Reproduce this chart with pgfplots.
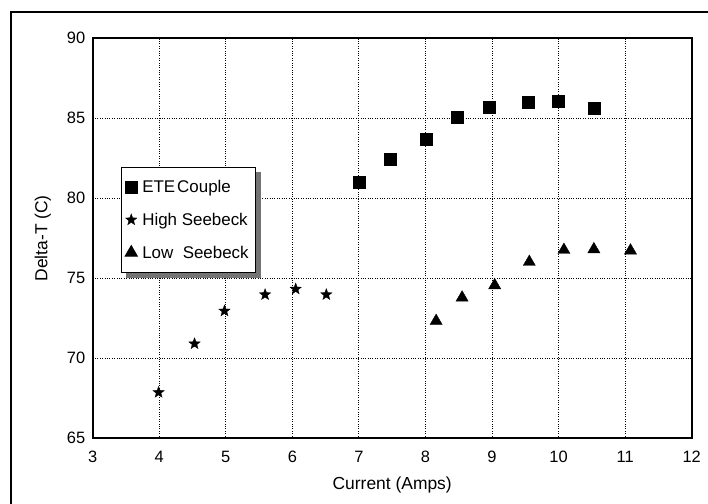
\documentclass[border=0pt]{standalone}
\usepackage{pgfplots}
\pgfplotsset{compat=1.18}
\usepackage{fontspec}
\setmainfont{Liberation Sans}
\usetikzlibrary{shadows}
\pgfdeclareplotmark{fstar}{%
 \pgfpathmoveto{\pgfpointpolar{90}{\pgfplotmarksize}}%
 \pgfpathlineto{\pgfpointpolar{126}{0.42\pgfplotmarksize}}%
 \pgfpathlineto{\pgfpointpolar{162}{\pgfplotmarksize}}%
 \pgfpathlineto{\pgfpointpolar{198}{0.42\pgfplotmarksize}}%
 \pgfpathlineto{\pgfpointpolar{234}{\pgfplotmarksize}}%
 \pgfpathlineto{\pgfpointpolar{270}{0.42\pgfplotmarksize}}%
 \pgfpathlineto{\pgfpointpolar{306}{\pgfplotmarksize}}%
 \pgfpathlineto{\pgfpointpolar{342}{0.42\pgfplotmarksize}}%
 \pgfpathlineto{\pgfpointpolar{18}{\pgfplotmarksize}}%
 \pgfpathlineto{\pgfpointpolar{54}{0.42\pgfplotmarksize}}%
 \pgfpathclose\pgfusepathqfillstroke}
\begin{document}
\begin{tikzpicture}[x=1bp,y=1bp]
\useasboundingbox (0,0) rectangle (708,-504);
\draw[line width=1.5bp] (11,-504) -- (11,-12) -- (708,-12);
\begin{axis}[
  at={(92.7bp,-438.3bp)}, anchor=south west, scale only axis,
  width=599bp, height=400bp,
  xmin=3, xmax=12, ymin=65, ymax=90,
  xtick={3,4,...,12}, ytick={65,70,...,90},
  grid=major, major grid style={dotted, line width=1bp, black},
  axis line style={line width=1.8bp},
  major tick length=0pt,
  /pgf/number format/assume math mode=true,
  tick label style={font=\fontsize{16.5}{18}\selectfont},
  xticklabel style={yshift=-9bp},
  yticklabel style={xshift=-4bp},
  xlabel={Current (Amps)}, ylabel={Delta-T (C)},
  label style={font=\fontsize{17.5}{20}\selectfont},
  xlabel style={at={(axis description cs:0.5,-0.117)}, anchor=center},
  ylabel style={at={(axis description cs:-0.083,0.5)}, anchor=center},
  legend cell align=left,
  legend image code/.code={\draw[#1] plot coordinates {(3bp,0bp)};},
  legend style={at={(axis description cs:0.0467,0.679)}, anchor=north west,
    draw=black, line width=1bp, fill=white,
    font=\fontsize{17}{20}\selectfont,
    row sep=19bp, column sep=2bp, inner xsep=4bp, inner ysep=13bp,
    nodes={inner xsep=3bp, inner ysep=0bp},
    drop shadow={shadow xshift=5bp, shadow yshift=-5bp, fill=black!55, opacity=1}},
]
\addplot[only marks, mark=square*, mark size=6bp, black] coordinates {
 (7.00,81.0) (7.47,82.46) (8.01,83.69) (8.47,85.1) (8.96,85.69) (9.55,86.02) (10.0,86.04) (10.53,85.63)};
\addlegendentry{ETE\hspace{2bp}Couple}
\addplot[only marks, mark=fstar, mark size=6bp, black, line width=0.3bp] coordinates {
 (3.99,67.87) (4.53,70.91) (4.98,72.96) (5.59,73.98) (6.05,74.33) (6.51,73.98)};
\addlegendentry{High Seebeck}
\addplot[only marks, mark=triangle*, mark size=7bp, black] coordinates {
 (8.16,72.33) (8.55,73.79) (9.04,74.56) (9.56,76.02) (10.08,76.77) (10.53,76.81) (11.08,76.73)};
\addlegendentry{Low\ \ Seebeck}
\end{axis}
\end{tikzpicture}
\end{document}
